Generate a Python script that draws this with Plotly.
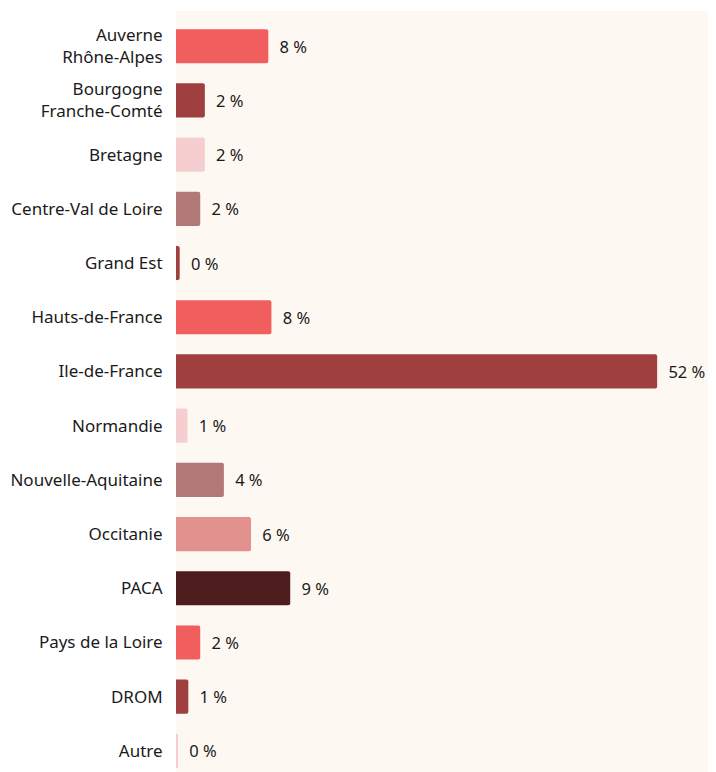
import plotly.graph_objects as go

regions = ["Auverne<br>Rhône-Alpes", "Bourgogne<br>Franche-Comté", "Bretagne",
           "Centre-Val de Loire", "Grand Est", "Hauts-de-France", "Ile-de-France",
           "Normandie", "Nouvelle-Aquitaine", "Occitanie", "PACA",
           "Pays de la Loire", "DROM", "Autre"]
# bar lengths
values = [8.0, 2.5, 2.5, 2.1, 0.32, 8.27, 41.7, 1.0, 4.15, 6.5, 9.9, 2.1, 1.07, 0.13]
# labels as printed next to each bar
labels = ["8 %", "2 %", "2 %", "2 %", "0 %", "8 %", "52 %", "1 %", "4 %", "6 %",
          "9 %", "2 %", "1 %", "0 %"]
colors = ["#F05F5E", "#A03F40", "#F5CFCF", "#B07876", "#A03F40", "#F05F5E", "#A03F40",
          "#F5CFCF", "#B07876", "#E3918F", "#4E1D1E", "#F05F5E", "#A03F40", "#F5CFCF"]

fig = go.Figure(go.Bar(
    y=regions, x=values, orientation="h",
    marker=dict(color=colors, line=dict(width=0)),
    text=["\u2002" + t for t in labels],
    textposition="outside", cliponaxis=False,
    textfont=dict(size=16.5, color="#1a1a1a"),
    width=0.63,
    hoverinfo="skip",
))

# page body has an 8px margin, so the figure is a bit smaller than the window
fig.update_layout(
    width=708, height=764,
    margin=dict(l=168, r=0, t=3, b=0, autoexpand=False),
    paper_bgcolor="white", plot_bgcolor="#FEF8F2",
    font=dict(family="Noto Sans", size=17, color="#1a1a1a"),
    barcornerradius=2,
    showlegend=False,
    xaxis=dict(range=[0, 46.8], visible=False, fixedrange=True, automargin=False),
    yaxis=dict(range=[13.39, -0.65], showgrid=False, zeroline=False, automargin=False,
               ticks="outside", ticklen=9, tickcolor="rgba(0,0,0,0)",
               tickfont=dict(size=17, color="#1a1a1a"), fixedrange=True),
)

fig.write_html("out.html")
